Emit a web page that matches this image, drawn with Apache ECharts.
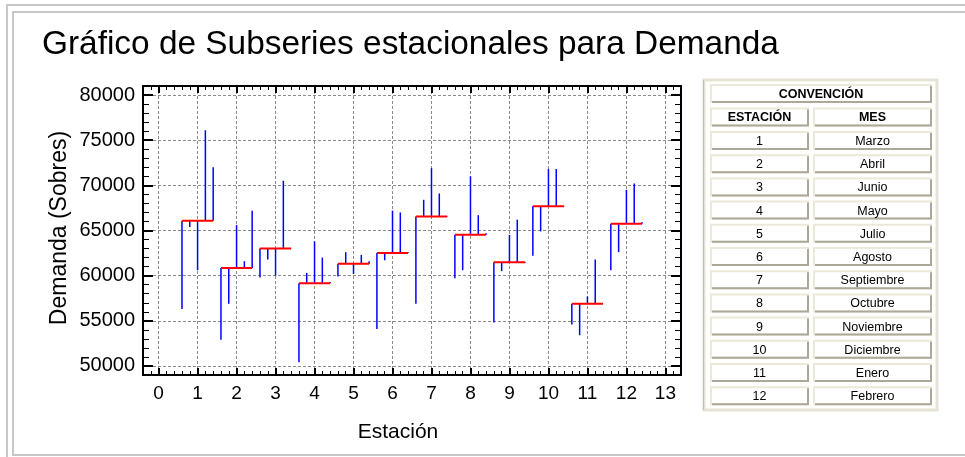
<!DOCTYPE html>
<html>
<head>
<meta charset="utf-8">
<script src="https://cdn.jsdelivr.net/npm/echarts@6/dist/echarts.min.js"></script>
<style>
  html, body { margin: 0; padding: 0; background: #ffffff; }
  #chart { width: 965px; height: 457px; }
</style>
</head>
<body>
<div id="chart"></div>
<script>
// Seasons (1..12) and the five yearly observations of demand for each season
const estaciones = [1, 2, 3, 4, 5, 6, 7, 8, 9, 10, 11, 12];
const meses = ['Marzo', 'Abril', 'Junio', 'Mayo', 'Julio', 'Agosto',
               'Septiembre', 'Octubre', 'Noviembre', 'Diciembre', 'Enero', 'Febrero'];

const anio1 = [56300, 52900, 59800, 50400, 59900, 54100, 56900, 59700, 54800, 62200, 54600, 60600];
const anio2 = [65400, 56900, 61800, 60300, 62600, 61700, 68400, 60600, 60500, 64900, 53400, 62600];
const anio3 = [60600, 65600, 60000, 63800, 60200, 67200, 71900, 71000, 64500, 71800, 57700, 69500];
const anio4 = [76100, 61600, 70500, 62000, 62300, 67000, 69100, 66700, 66200, 71800, 61800, 70200];
const anio5 = [72000, 67200, 63000, 59300, 61600, 62600, 66500, 64700, 61400, 67700, 56900, 65900];

// Axis ticks
const yMajorTicks = [50000, 55000, 60000, 65000, 70000, 75000, 80000];
const xMajorTicks = [0, 1, 2, 3, 4, 5, 6, 7, 8, 9, 10, 11, 12, 13];

const anios = [anio1, anio2, anio3, anio4, anio5];
const desplazamiento = [-0.4, -0.2, 0, 0.2, 0.4];

// Seasonal mean for every season
const medias = estaciones.map((s, i) => anios.reduce((acc, a) => acc + a[i], 0) / anios.length);

// Vertical segments: [x position, observed value, seasonal mean]
const segmentos = [];
estaciones.forEach((s, i) => {
  anios.forEach((a, k) => {
    segmentos.push([s + desplazamiento[k], a[i], medias[i]]);
  });
});
const lineasMedia = estaciones.map((s, i) => [s, medias[i]]);

const FONT = 'Liberation Sans, Arial, sans-serif';
const GRID = { left: 143, right: 284, top: 86, bottom: 82 };

function baseAxisLine() {
  return { show: true, onZero: false, lineStyle: { color: '#000', width: 2 } };
}
function tick(len, w, custom) {
  const t = { inside: true, length: len, lineStyle: { color: '#000', width: w } };
  if (custom) t.customValues = custom;
  return t;
}
const gridLine = { show: true, lineStyle: { color: '#8a8a8a', type: [3, 2], width: 1 } };

const xAxes = [
  // minor ticks, bottom
  { type: 'value', position: 'bottom', min: -0.4, max: 13.4, interval: 0.2,
    axisLine: baseAxisLine(), axisTick: tick(4, 1), axisLabel: { show: false }, splitLine: { show: false } },
  // major ticks, labels and grid, bottom
  { type: 'value', position: 'bottom', min: -0.4, max: 13.4,
    axisLine: baseAxisLine(), axisTick: tick(7, 2, xMajorTicks),
    axisLabel: { customValues: xMajorTicks, margin: 9, color: '#000', fontSize: 19, fontFamily: FONT },
    splitLine: gridLine },
  // top edge
  { type: 'value', position: 'top', min: -0.4, max: 13.4, interval: 0.2,
    axisLine: baseAxisLine(), axisTick: tick(4, 1), axisLabel: { show: false }, splitLine: { show: false } },
  { type: 'value', position: 'top', min: -0.4, max: 13.4,
    axisLine: baseAxisLine(), axisTick: tick(7, 2, xMajorTicks), axisLabel: { show: false }, splitLine: { show: false } }
];

const yAxes = [
  { type: 'value', position: 'left', min: 49000, max: 81000, interval: 1000,
    axisLine: baseAxisLine(), axisTick: tick(6, 1), axisLabel: { show: false }, splitLine: { show: false } },
  { type: 'value', position: 'left', min: 49000, max: 81000,
    axisLine: baseAxisLine(), axisTick: tick(10, 2, yMajorTicks),
    axisLabel: { customValues: yMajorTicks, margin: 8, color: '#000', fontSize: 20, fontFamily: FONT,
                 formatter: function (v) { return String(v); } },
    splitLine: gridLine },
  { type: 'value', position: 'right', min: 49000, max: 81000, interval: 1000,
    axisLine: baseAxisLine(), axisTick: tick(6, 1), axisLabel: { show: false }, splitLine: { show: false } },
  { type: 'value', position: 'right', min: 49000, max: 81000,
    axisLine: baseAxisLine(), axisTick: tick(10, 2, yMajorTicks), axisLabel: { show: false }, splitLine: { show: false } }
];

// Legend table ("CONVENCIÓN")
const tabla = [];
const celdaClara = '#ece9d8';
const celdaOscura = '#aca899';
function celda(x, y, w, h, texto, negrita) {
  tabla.push({ type: 'rect', shape: { x: x, y: y, width: w, height: h },
    style: { fill: '#fff', stroke: celdaClara, lineWidth: 2 } });
  tabla.push({ type: 'polyline', shape: { points: [[x + 1, y + h], [x + w, y + h], [x + w, y + 1]] },
    style: { fill: null, stroke: celdaOscura, lineWidth: 2 } });
  tabla.push({ type: 'text', x: x + w / 2, y: y + h / 2 + 1,
    style: { text: texto, fill: '#000', align: 'center', verticalAlign: 'middle',
             font: (negrita ? 'bold ' : '') + '12.5px ' + FONT } });
}
tabla.push({ type: 'rect', shape: { x: 704, y: 80, width: 233, height: 330 },
  style: { fill: '#fff', stroke: '#e6e3d6', lineWidth: 3 } });
tabla.push({ type: 'line', shape: { x1: 703.5, y1: 80, x2: 703.5, y2: 410 },
  style: { stroke: '#c4c1b4', lineWidth: 1 } });
celda(711, 85, 220, 17, 'CONVENCIÓN', true);
celda(711, 108.5, 97, 17, 'ESTACIÓN', true);
celda(814, 108.5, 117, 17, 'MES', true);
estaciones.forEach((s, i) => {
  const y = 132 + i * 23.2;
  celda(711, y, 97, 17, String(s), false);
  celda(814, y, 117, 17, meses[i], false);
});

const chart = echarts.init(document.getElementById('chart'), null, { renderer: 'canvas' });
chart.setOption({
  backgroundColor: '#ffffff',
  animation: false,
  grid: GRID,
  xAxis: xAxes,
  yAxis: yAxes,
  graphic: [
    // window frame
    { type: 'polyline', shape: { points: [[7, 457], [7, 5], [965, 5]] }, style: { fill: null, stroke: '#c8c8c8', lineWidth: 2 } },
    { type: 'polyline', shape: { points: [[965, 12], [13, 12], [13, 455], [965, 455]] }, style: { fill: null, stroke: '#c8c8c8', lineWidth: 2 } },
    { type: 'text', x: 42, y: 45, style: { text: 'Gráfico de Subseries estacionales para Demanda', fill: '#000',
      verticalAlign: 'middle', font: '33.4px ' + FONT } },
    { type: 'text', x: 60, y: 228, rotation: Math.PI / 2, style: { text: 'Demanda (Sobres)', fill: '#000',
      align: 'center', verticalAlign: 'middle', font: '23px ' + FONT } },
    { type: 'text', x: 398, y: 432, style: { text: 'Estación', fill: '#000',
      align: 'center', verticalAlign: 'middle', font: '21px ' + FONT } }
  ].concat(tabla),
  series: [
    {
      type: 'custom', xAxisIndex: 1, yAxisIndex: 1, data: segmentos, z: 3,
      renderItem: function (params, api) {
        const p1 = api.coord([api.value(0), api.value(2)]);
        const p2 = api.coord([api.value(0), api.value(1)]);
        return { type: 'line', shape: { x1: p1[0], y1: p1[1], x2: p2[0], y2: p2[1] },
                 style: { stroke: '#0000ff', lineWidth: 1.5 } };
      }
    },
    {
      type: 'custom', xAxisIndex: 1, yAxisIndex: 1, data: lineasMedia, z: 4,
      renderItem: function (params, api) {
        const p1 = api.coord([api.value(0) - 0.4, api.value(1)]);
        const p2 = api.coord([api.value(0) + 0.4, api.value(1)]);
        return { type: 'line', shape: { x1: p1[0], y1: p1[1], x2: p2[0], y2: p2[1] },
                 style: { stroke: '#ff0000', lineWidth: 2 } };
      }
    }
  ]
});
</script>
</body>
</html>
